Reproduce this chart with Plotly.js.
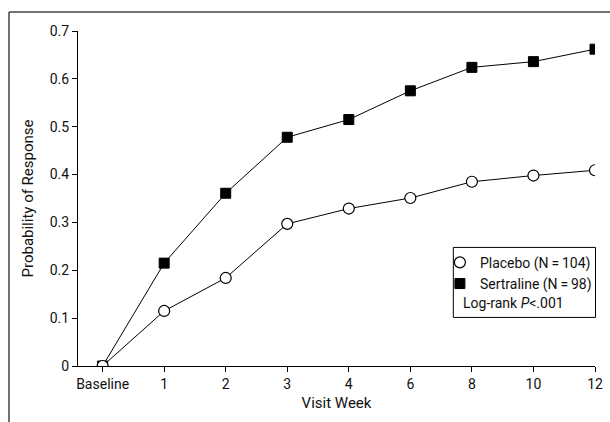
<!DOCTYPE html>
<html>
<head>
<meta charset="utf-8">
<script src="https://cdn.plot.ly/plotly-3.0.1.min.js"></script>
<style>html,body{margin:0;padding:0;background:#fff;}#chart{width:610px;height:422px;}</style>
</head>
<body>
<div id="chart"></div>
<script>
var weeks = ["Baseline", "1", "2", "3", "4", "6", "8", "10", "12"];
var placebo = [0, 0.115, 0.184, 0.297, 0.329, 0.351, 0.385, 0.398, 0.409];
var sertraline = [0, 0.215, 0.361, 0.478, 0.515, 0.575, 0.624, 0.636, 0.662];
var yTicks = [0, 0.1, 0.2, 0.3, 0.4, 0.5, 0.6, 0.7];
var yTickText = ["0", "0.1", "0.2", "0.3", "0.4", "0.5", "0.6", "0.7"];
var placeboName = "Placebo (N\u2009=\u2009104)";
var sertralineName = "Sertraline (N\u2009=\u200998)";

var FONT = "Roboto, 'Liberation Sans', sans-serif";

var traces = [
  {
    x: weeks, y: sertraline, type: "scatter", mode: "lines", showlegend: false,
    name: sertralineName, line: {color: "#000", width: 1}
  },
  {
    x: weeks, y: placebo, type: "scatter", mode: "lines", showlegend: false,
    name: placeboName, line: {color: "#000", width: 1}
  },
  {
    x: weeks, y: sertraline, type: "scatter", mode: "markers",
    name: sertralineName, legendrank: 2,
    marker: {symbol: "square", size: 10, color: "#000", line: {color: "#000", width: 1}}
  },
  {
    x: weeks, y: placebo, type: "scatter", mode: "markers",
    name: placeboName, legendrank: 1,
    marker: {symbol: "circle", size: 11, color: "#fff", line: {color: "#000", width: 1.2}}
  }
];

var layout = {
  width: 610, height: 422,
  margin: {l: 78, r: 15, t: 31, b: 56, autoexpand: false},
  paper_bgcolor: "#fff", plot_bgcolor: "#fff",
  font: {family: FONT, size: 14, color: "#111"},
  showlegend: true,
  legend: {
    x: 0.7, y: 0.356, xanchor: "left", yanchor: "top",
    bgcolor: "rgba(0,0,0,0)", borderwidth: 0,
    font: {family: FONT, size: 14, color: "#111"},
    itemwidth: 30, tracegroupgap: 0
  },
  xaxis: {
    type: "category", categoryorder: "array", categoryarray: weeks,
    range: [-0.4, 8], showline: true, linecolor: "#000", linewidth: 1,
    ticks: "outside", ticklen: 5, tickcolor: "#000", tickwidth: 1,
    showgrid: false, zeroline: false, fixedrange: true,
    tickfont: {family: FONT, size: 14, color: "#111"},
    title: {text: "Visit Week", font: {family: FONT, size: 15, color: "#111"}, standoff: 6}
  },
  yaxis: {
    range: [0, 0.7], showline: true, linecolor: "#000", linewidth: 1,
    ticks: "outside", ticklen: 5, tickcolor: "#000", tickwidth: 1,
    tickvals: yTicks, ticktext: yTickText,
    showgrid: false, zeroline: false, fixedrange: true,
    tickfont: {family: FONT, size: 14, color: "#111"},
    title: {text: "Probability of Response", font: {family: FONT, size: 15, color: "#111"}, standoff: 12}
  },
  shapes: [
    {type: "rect", xref: "paper", yref: "paper", x0: 0.726, x1: 1.001, y0: 0.145, y1: 0.354,
     line: {color: "#000", width: 1}, fillcolor: "rgba(0,0,0,0)"},
    {type: "line", xref: "paper", yref: "paper", x0: -0.1335, x1: 1.2, y0: 1.0567, y1: 1.0567,
     line: {color: "#444", width: 1.5}},
    {type: "line", xref: "paper", yref: "paper", x0: -0.1335, x1: -0.1335, y0: 1.0567, y1: -0.3,
     line: {color: "#444", width: 1.5}}
  ],
  annotations: [
    {xref: "paper", yref: "paper", x: 0.74, y: 0.187, xanchor: "left", yanchor: "middle",
     showarrow: false, text: "Log-rank <i>P</i><.001",
     font: {family: FONT, size: 14, color: "#111"}}
  ]
};

Plotly.newPlot("chart", traces, layout, {displayModeBar: false, staticPlot: true});
</script>
</body>
</html>
